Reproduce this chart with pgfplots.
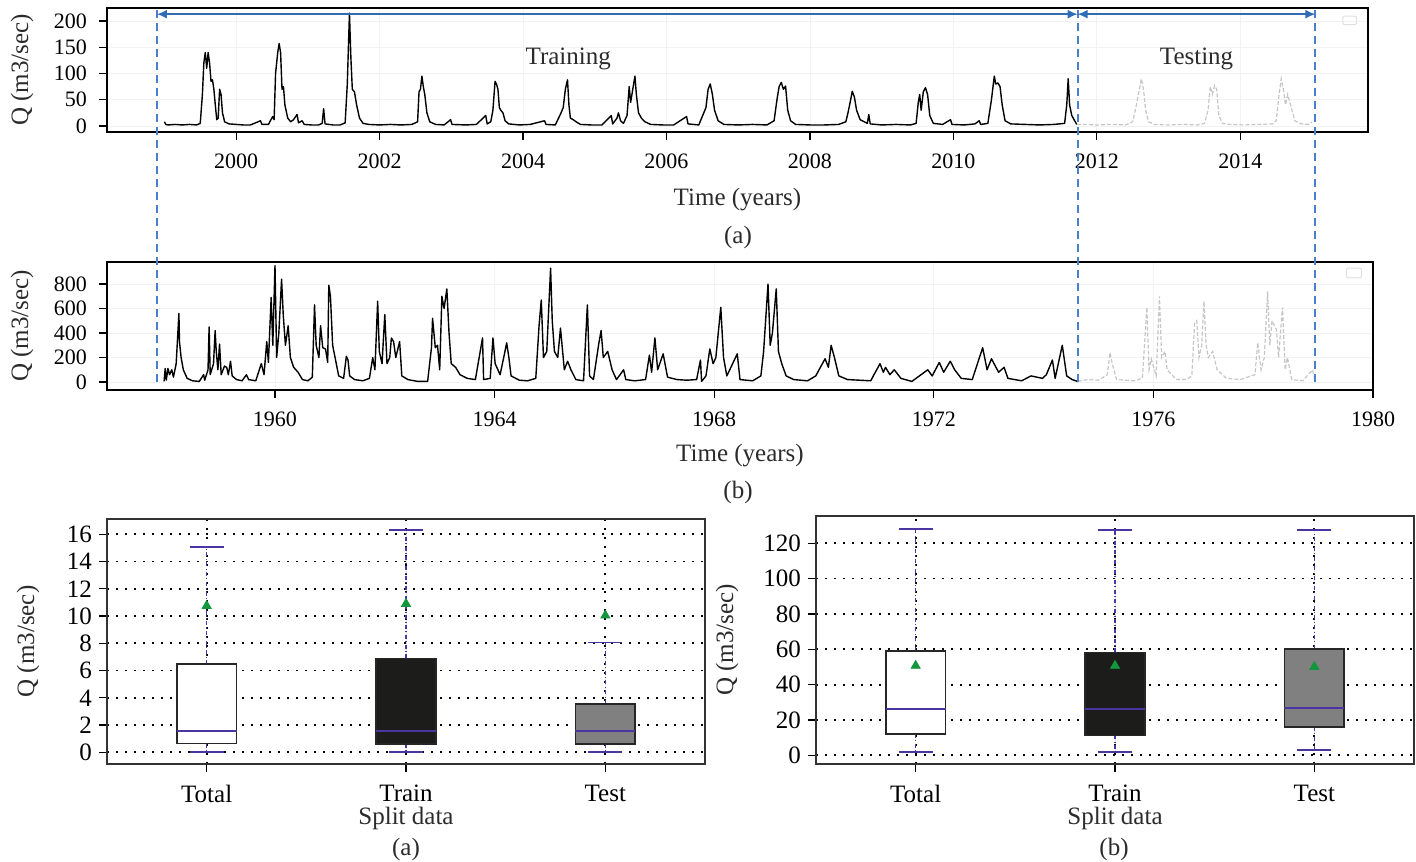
\documentclass[border=0pt]{standalone}
\usepackage{fontspec}
\setmainfont{Liberation Serif}
\usepackage{pgfplots}
\pgfplotsset{compat=1.18}
\usepgfplotslibrary{statistics}
\usetikzlibrary{arrows.meta}
\definecolor{splitblue}{HTML}{4A7FCF}
\definecolor{arrowblue}{HTML}{2F6CB6}
\definecolor{whisk}{HTML}{4B35A0}
\definecolor{meangreen}{HTML}{14963C}
\definecolor{boxdark}{HTML}{1C1C1A}
\definecolor{boxgray}{HTML}{808080}
\definecolor{lblcol}{HTML}{2B2B2B}

\pgfplotsset{
  common/.style={
    scale only axis,
    tick align=outside,
    xtick pos=bottom, ytick pos=left,
    major tick length=4pt,
    tick style={black, line width=0.6pt},
    ticklabel style={text=black},
    /pgf/number format/assume math mode=true,
    /pgf/number format/1000 sep={},
    label style={font=\fontsize{12.5}{14}\selectfont, text=lblcol},
  },
  ts/.style={
    common,
    ticklabel style={font=\fontsize{11}{13}\selectfont},
    xticklabel style={yshift=-3.5pt},
    yticklabel style={xshift=-2.5pt},
    axis line style={line width=0.8pt, black},
    grid=major, major grid style={gray!10, line width=0.4pt},
    xlabel style={at={(rel axis cs:0.5,0)}, anchor=center},
    ylabel style={at={(rel axis cs:0,0.5)}, anchor=center, yshift=42.5pt},
  },
  bp/.style={
    common,
    ticklabel style={font=\fontsize{12.5}{14}\selectfont},
    xticklabel style={yshift=-3pt},
    xmin=0.5, xmax=3.5,
    xtick={1,2,3}, xticklabels={Total,Train,Test},
    axis line style={line width=0.8pt, black!80},
    grid=major,
    major grid style={black, line width=0.9pt, dash pattern=on 0.9pt off 3.6pt},
    xlabel={Split data},
    xlabel style={at={(rel axis cs:0.5,0)}, anchor=center, yshift=-27pt},
    ylabel={Q (m3/sec)},
    boxplot/draw direction=y,
    boxplot/box extend=0.3,
    boxplot/whisker extend=0.17,
    boxplot/every box/.style={draw=black!85, line width=0.8pt},
    boxplot/every median/.style={draw=whisk, line width=0.9pt},
    boxplot/every whisker/.style={draw=whisk, line width=0.75pt, dash pattern=on 2pt off 1.2pt on 0.5pt off 1.2pt},
    boxplot/draw/lower whisker/.code={%
      \draw[/pgfplots/boxplot/every whisker/.try]
        (boxplot cs:\pgfplotsboxplotvalue{lower quartile}) --
        (boxplot cs:\pgfplotsboxplotvalue{lower whisker});
      \draw[draw=whisk, solid, line width=0.85pt]
        (boxplot whisker cs:\pgfplotsboxplotvalue{lower whisker},0) --
        (boxplot whisker cs:\pgfplotsboxplotvalue{lower whisker},1);
    },
    boxplot/draw/upper whisker/.code={%
      \draw[/pgfplots/boxplot/every whisker/.try]
        (boxplot cs:\pgfplotsboxplotvalue{upper quartile}) --
        (boxplot cs:\pgfplotsboxplotvalue{upper whisker});
      \draw[draw=whisk, solid, line width=0.85pt]
        (boxplot whisker cs:\pgfplotsboxplotvalue{upper whisker},0) --
        (boxplot whisker cs:\pgfplotsboxplotvalue{upper whisker},1);
    },
  },
  trainline/.style={black, line width=0.7pt, line join=round},
  testline/.style={gray!45, line width=0.6pt, dash pattern=on 2pt off 1pt},
}

\pgfplotstableread{
x y
1999.00 8
1999.02 3
1999.05 2
1999.15 3
1999.25 2
1999.35 3
1999.45 2
1999.50 5
1999.53 60
1999.55 120
1999.57 140
1999.59 110
1999.61 140
1999.63 120
1999.65 85
1999.67 88
1999.69 70
1999.71 40
1999.73 12
1999.75 15
1999.77 70
1999.79 60
1999.81 25
1999.84 8
1999.90 4
2000.00 3
2000.10 2
2000.20 2
2000.34 10
2000.36 3
2000.45 3
2000.51 18
2000.53 12
2000.55 100
2000.58 140
2000.60 157
2000.62 140
2000.64 70
2000.66 75
2000.68 40
2000.72 15
2000.76 8
2000.80 12
2000.85 22
2000.87 6
2000.92 10
2000.95 3
2001.05 2
2001.15 2
2001.20 5
2001.22 33
2001.24 4
2001.35 2
2001.45 2
2001.52 6
2001.55 80
2001.58 215
2001.60 130
2001.62 70
2001.65 65
2001.68 40
2001.72 15
2001.77 5
2001.85 3
2002.00 2
2002.15 3
2002.30 2
2002.45 3
2002.53 8
2002.55 65
2002.57 70
2002.59 95
2002.61 75
2002.63 60
2002.66 25
2002.70 8
2002.78 3
2002.90 2
2002.99 12
2003.01 3
2003.20 2
2003.35 3
2003.48 20
2003.50 4
2003.55 8
2003.58 30
2003.61 85
2003.63 80
2003.65 70
2003.67 35
2003.69 30
2003.72 25
2003.75 10
2003.80 4
2003.95 2
2004.10 3
2004.30 10
2004.32 3
2004.45 2
2004.53 25
2004.56 35
2004.59 70
2004.62 88
2004.64 40
2004.66 15
2004.70 12
2004.74 8
2004.80 3
2004.95 2
2005.10 2
2005.23 20
2005.25 4
2005.31 15
2005.33 25
2005.36 10
2005.40 5
2005.45 20
2005.48 75
2005.50 45
2005.53 70
2005.56 95
2005.58 60
2005.61 25
2005.65 15
2005.70 8
2005.78 3
2005.95 2
2006.10 2
2006.28 18
2006.30 4
2006.45 2
2006.55 35
2006.58 70
2006.61 80
2006.64 60
2006.67 30
2006.72 10
2006.80 3
2007.00 2
2007.20 3
2007.40 2
2007.50 10
2007.54 50
2007.57 75
2007.60 83
2007.63 70
2007.66 76
2007.69 30
2007.73 10
2007.80 3
2008.00 2
2008.20 2
2008.40 3
2008.50 8
2008.53 25
2008.56 45
2008.59 66
2008.62 55
2008.65 30
2008.70 12
2008.80 5
2008.82 22
2008.84 4
2009.00 2
2009.20 3
2009.40 2
2009.48 5
2009.51 45
2009.53 60
2009.55 30
2009.58 65
2009.61 73
2009.64 60
2009.67 20
2009.72 5
2009.85 3
2009.96 12
2009.98 3
2010.15 2
2010.30 4
2010.36 10
2010.38 3
2010.48 5
2010.53 50
2010.57 95
2010.59 80
2010.62 82
2010.65 75
2010.68 40
2010.72 10
2010.80 4
2011.00 3
2011.20 2
2011.40 3
2011.55 5
2011.58 40
2011.60 90
2011.62 40
2011.65 20
2011.69 10
2011.72 3
}\trainA

\pgfplotstableread{
x y
2011.72 3
2011.85 3
2012.00 2
2012.20 3
2012.40 2
2012.50 8
2012.55 40
2012.60 75
2012.62 90
2012.65 70
2012.68 30
2012.72 8
2012.80 3
2013.00 2
2013.20 3
2013.40 2
2013.50 5
2013.55 30
2013.58 75
2013.61 60
2013.64 77
2013.67 70
2013.70 20
2013.75 5
2013.85 3
2014.05 2
2014.25 3
2014.45 4
2014.50 10
2014.54 60
2014.57 90
2014.60 70
2014.63 40
2014.66 60
2014.69 45
2014.72 30
2014.76 10
2014.85 4
2014.95 3
2015.00 8
}\testA

\pgfplotstableread{
x y
1957.98 5
1958.00 110
1958.02 15
1958.05 110
1958.08 60
1958.12 100
1958.15 40
1958.20 150
1958.25 560
1958.26 330
1958.29 200
1958.33 100
1958.40 30
1958.50 10
1958.62 5
1958.70 60
1958.72 15
1958.78 100
1958.80 450
1958.82 60
1958.88 150
1958.91 420
1958.93 250
1958.96 100
1958.99 310
1959.02 60
1959.08 130
1959.12 120
1959.15 60
1959.19 170
1959.22 50
1959.30 20
1959.40 10
1959.48 60
1959.52 20
1959.65 10
1959.75 150
1959.80 60
1959.85 330
1959.88 160
1959.93 690
1959.96 300
1960.00 950
1960.03 200
1960.07 400
1960.12 840
1960.15 550
1960.19 300
1960.24 460
1960.28 200
1960.34 120
1960.42 80
1960.50 20
1960.60 10
1960.68 40
1960.72 630
1960.75 300
1960.80 200
1960.83 460
1960.87 280
1960.92 270
1960.96 160
1960.98 790
1961.01 700
1961.05 300
1961.09 210
1961.16 50
1961.25 30
1961.30 210
1961.33 180
1961.36 50
1961.45 20
1961.60 10
1961.72 30
1961.78 200
1961.82 100
1961.87 660
1961.90 250
1961.95 150
1962.00 550
1962.04 150
1962.09 200
1962.12 360
1962.16 330
1962.20 200
1962.27 330
1962.31 50
1962.42 20
1962.60 5
1962.78 5
1962.85 280
1962.87 520
1962.92 280
1962.96 300
1963.00 100
1963.04 700
1963.08 600
1963.13 760
1963.17 400
1963.21 150
1963.29 120
1963.37 60
1963.50 30
1963.65 20
1963.78 360
1963.80 20
1963.92 30
1963.97 360
1964.01 150
1964.10 60
1964.18 230
1964.22 320
1964.26 200
1964.30 50
1964.45 15
1964.60 10
1964.75 30
1964.81 460
1964.85 670
1964.89 200
1964.95 250
1965.02 930
1965.05 500
1965.09 250
1965.15 200
1965.20 440
1965.27 100
1965.33 170
1965.39 100
1965.48 20
1965.62 10
1965.69 630
1965.73 50
1965.80 20
1965.90 320
1965.94 420
1965.98 200
1966.06 250
1966.14 100
1966.22 20
1966.35 100
1966.39 20
1966.55 10
1966.75 20
1966.82 220
1966.86 80
1966.92 360
1966.97 100
1967.07 230
1967.15 40
1967.32 20
1967.50 15
1967.68 20
1967.75 180
1967.77 5
1967.85 50
1967.92 270
1967.98 150
1968.03 200
1968.12 610
1968.17 200
1968.23 50
1968.42 230
1968.47 20
1968.70 10
1968.85 50
1968.90 250
1968.98 800
1969.02 300
1969.06 400
1969.13 760
1969.17 250
1969.23 150
1969.31 50
1969.45 20
1969.70 10
1969.85 50
1969.97 150
1970.02 190
1970.08 120
1970.13 300
1970.19 200
1970.27 50
1970.43 20
1970.85 10
1971.02 150
1971.08 80
1971.12 120
1971.20 60
1971.28 100
1971.40 30
1971.60 5
1971.89 100
1971.97 50
1972.10 160
1972.18 80
1972.30 170
1972.38 100
1972.50 30
1972.70 20
1972.89 280
1972.97 100
1973.05 190
1973.18 80
1973.28 120
1973.35 30
1973.60 10
1973.77 50
1973.98 30
1974.05 60
1974.16 180
1974.21 30
1974.34 300
1974.42 50
1974.52 20
1974.62 5
}\trainB

\pgfplotstableread{
x y
1974.62 5
1974.80 20
1975.00 15
1975.16 60
1975.21 240
1975.25 150
1975.33 20
1975.65 10
1975.80 30
1975.88 610
1975.92 100
1975.96 190
1976.05 50
1976.11 700
1976.15 200
1976.21 250
1976.25 100
1976.42 20
1976.60 20
1976.70 50
1976.75 480
1976.79 500
1976.83 200
1976.88 300
1976.92 660
1976.96 300
1977.00 200
1977.08 250
1977.16 100
1977.33 30
1977.58 20
1977.85 60
1977.90 320
1977.96 100
1978.02 200
1978.08 740
1978.12 300
1978.16 500
1978.24 430
1978.28 200
1978.35 610
1978.40 100
1978.44 200
1978.52 20
1978.72 10
1978.90 100
1978.94 20
}\testB

\begin{document}
\begin{tikzpicture}
\useasboundingbox (0,0) rectangle (708pt,430.5pt);

% ---------- (a) daily series ----------
\begin{axis}[ts,
  at={(53.5pt,364.5pt)}, anchor=south west,
  width=630.5pt, height=62pt,
  xmin=1998.2, xmax=2015.78, ymin=-11.4, ymax=224.8,
  xtick={2000,2002,...,2014}, ytick={0,50,...,200},
  xlabel={Time (years)}, xlabel style={yshift=-34pt},
  ylabel={Q (m3/sec)},
]
\addplot[trainline] table {\trainA};
\addplot[testline] table {\testA};
\node[font=\fontsize{12.5}{14}\selectfont, text=lblcol] at (axis cs:2004.63,128) {Training};
\node[font=\fontsize{12.5}{14}\selectfont, text=lblcol] at (axis cs:2013.39,128) {Testing};
\draw[gray!25, line width=0.5pt, rounded corners=1pt] (rel axis cs:0.980,0.865) rectangle (rel axis cs:0.991,0.935);
\coordinate (Atop) at (rel axis cs:0,1);
\coordinate (Arr) at (axis cs:2000,213);
\end{axis}
\node[font=\fontsize{12.5}{14}\selectfont, text=lblcol] at (369pt,312pt) {(a)};

% ---------- (b) series ----------
\begin{axis}[ts,
  at={(53.5pt,235.5pt)}, anchor=south west,
  width=633pt, height=64pt,
  xmin=1956.94, xmax=1980, ymin=-65, ymax=980,
  xtick={1960,1964,...,1980}, ytick={0,200,...,800},
  xlabel={Time (years)}, xlabel style={yshift=-33pt},
  ylabel={Q (m3/sec)},
]
\addplot[trainline] table {\trainB};
\addplot[testline] table {\testB};
\draw[gray!25, line width=0.5pt, rounded corners=1pt] (rel axis cs:0.979,0.875) rectangle (rel axis cs:0.991,0.953);
\coordinate (L1) at (axis cs:1957.85,0);
\coordinate (L2) at (axis cs:1974.62,0);
\coordinate (L3) at (axis cs:1978.95,0);
\end{axis}
\node[font=\fontsize{12.5}{14}\selectfont, text=lblcol] at (369pt,184.5pt) {(b)};

% split markers
\foreach \c in {L1,L2,L3}
  \draw[splitblue, line width=1.1pt, dash pattern=on 4pt off 2.5pt] (\c) -- (\c |- Atop);
\draw[arrowblue, line width=0.8pt, {Latex[length=5pt,width=4.5pt]}-{Latex[length=5pt,width=4.5pt]}] (L1 |- Arr) -- (L2 |- Arr);
\draw[arrowblue, line width=0.8pt, {Latex[length=5pt,width=4.5pt]}-{Latex[length=5pt,width=4.5pt]}] (L2 |- Arr) -- (L3 |- Arr);

% ---------- boxplot (a) ----------
\begin{axis}[bp,
  at={(53.5pt,48.5pt)}, anchor=south west,
  width=299pt, height=122.5pt,
  ymin=-0.86, ymax=17.12, ytick={0,2,...,16},
  ylabel style={at={(rel axis cs:0,0.5)}, anchor=center, yshift=39.5pt},
]
\addplot[fill=white, boxplot prepared={draw position=1, lower whisker=0, lower quartile=0.64, median=1.56, upper quartile=6.47, upper whisker=15.05}] coordinates {};
\addplot[fill=boxdark, boxplot prepared={draw position=2, lower whisker=0, lower quartile=0.62, median=1.58, upper quartile=6.89, upper whisker=16.3}] coordinates {};
\addplot[fill=boxgray, boxplot prepared={draw position=3, lower whisker=0, lower quartile=0.61, median=1.58, upper quartile=3.54, upper whisker=8.06}] coordinates {};
\addplot[only marks, mark=triangle*, mark size=2.6pt, color=meangreen] coordinates {(1,10.75) (2,10.9) (3,10.04)};
\end{axis}
\node[font=\fontsize{12.5}{14}\selectfont, text=lblcol] at (203pt,6pt) {(a)};

% ---------- boxplot (b) ----------
\begin{axis}[bp,
  at={(408pt,48.5pt)}, anchor=south west,
  width=299pt, height=124pt,
  ymin=-4.9, ymax=135.4, ytick={0,20,...,120},
  ylabel style={at={(rel axis cs:0,0.5)}, anchor=center, yshift=44.5pt},
]
\addplot[fill=white, boxplot prepared={draw position=1, lower whisker=1.7, lower quartile=12.2, median=26.2, upper quartile=59.0, upper whisker=128.1}] coordinates {};
\addplot[fill=boxdark, boxplot prepared={draw position=2, lower whisker=1.7, lower quartile=11.3, median=26.2, upper quartile=58.2, upper whisker=127.3}] coordinates {};
\addplot[fill=boxgray, boxplot prepared={draw position=3, lower whisker=3.2, lower quartile=16.2, median=26.8, upper quartile=60.3, upper whisker=127.3}] coordinates {};
\addplot[only marks, mark=triangle*, mark size=2.6pt, color=meangreen] coordinates {(1,50.7) (2,50.7) (3,50.1)};
\end{axis}
\node[font=\fontsize{12.5}{14}\selectfont, text=lblcol] at (557pt,6pt) {(b)};
\end{tikzpicture}
\end{document}
